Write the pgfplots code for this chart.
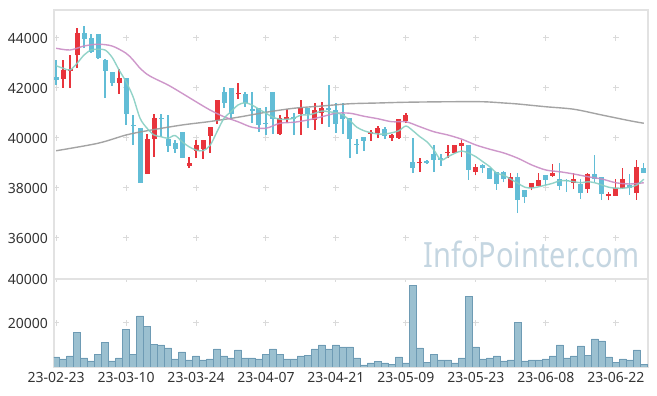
\documentclass[border=0pt]{standalone}
\usepackage{pgfplots}
\pgfplotsset{compat=1.18}
\usepackage{pgfplotstable}
\usepackage{graphicx}
\usepackage{fontspec}
\setmainfont{Noto Sans}
\definecolor{upc}{HTML}{E8343C}
\definecolor{dnc}{HTML}{62BDD6}
\definecolor{ma5}{HTML}{86CEC2}
\definecolor{ma20}{HTML}{C98CC4}
\definecolor{ma60}{HTML}{9A9A9A}
\definecolor{volf}{HTML}{9BC0D0}
\definecolor{vold}{HTML}{6E9BB4}
\definecolor{framec}{HTML}{E2E2E2}
\definecolor{gridc}{HTML}{DADADA}
\definecolor{txt}{HTML}{333333}
\definecolor{wm}{HTML}{C5D6E1}

\pgfplotstableread{
i o h l c
1 42360 43120 42010 42720
2 42680 43320 41990 42760
3 43300 44390 42790 44190
9 42190 42750 41760 42390
13 38550 40150 38550 39960
14 39950 40960 39250 40800
19 38890 39250 38790 38990
20 39490 39920 39190 39720
21 39570 39920 39170 39920
22 40080 40450 39390 40450
23 40720 41520 40560 41520
26 41740 42190 41550 41810
32 40160 40920 40120 40790
33 40760 41150 40590 40840
35 40970 41520 40120 41210
37 40710 41390 40320 41120
38 41010 41450 40550 41210
45 40170 40320 39890 40250
46 40190 40490 39990 40390
48 40010 40160 39890 40120
49 40010 40750 39950 40750
50 40690 41010 40590 40920
52 38990 39210 38630 39050
56 39390 39720 39190 39450
57 39410 39720 39410 39720
58 39680 39920 39230 39790
60 38650 38950 38500 38850
65 37990 38590 37990 38430
68 37990 38210 37900 38210
69 38090 38590 38090 38320
71 38490 38960 38450 38610
74 38190 38590 37950 38360
76 37950 38600 37800 38560
79 37690 37850 37500 37760
80 37690 38350 37690 37990
81 37990 38790 37950 38350
83 37790 39120 37520 38830
}\upt

\pgfplotstableread{
i o h l c
0 42430 43120 42120 42320
4 44190 44480 43590 43960
5 43990 44150 43410 43450
6 44150 44150 43150 43210
7 43120 43150 41590 42690
8 42630 42630 42090 42190
10 42390 42390 40520 40950
11 40530 40920 39720 40470
12 40390 40390 38210 38210
15 40800 40960 40050 40750
16 39970 40920 39450 39690
17 39790 39920 39400 39570
18 40230 40230 39210 39210
24 41830 42030 41190 41390
25 41990 41990 40720 40960
27 41760 41850 41250 41390
28 41160 41850 40590 41090
29 41210 41210 40250 40520
30 40610 41250 40120 40560
31 41840 41840 40150 40770
34 40840 40990 40120 40750
36 41210 41210 40390 40960
39 41190 42120 40450 41110
40 41120 41390 40190 40570
41 40950 41390 40150 40750
42 40810 40810 39190 39950
43 39770 39960 39360 39710
44 40030 40030 39490 39890
47 40350 40450 39950 40080
51 39050 40010 38590 38790
53 39060 39120 38950 39000
54 39360 39720 38630 39120
55 39180 39360 38890 39120
59 39720 39720 38320 38720
61 38920 38960 38600 38790
62 38810 38810 38360 38360
63 38630 38630 37920 38150
64 38630 38690 38220 38350
66 38430 38590 36990 37520
67 37920 37920 37390 37630
70 38520 38520 38120 38320
72 38360 38990 37920 38090
73 38330 38360 37850 38270
75 38160 38350 37550 37790
77 38560 39320 38250 38350
78 38430 38430 37520 37750
82 38120 38550 37720 37990
84 38810 38990 38590 38590
}\dnt

\pgfplotstableread{
i m
0 42890
1 42790
2 42720
3 42990
4 43320
5 43520
6 43550
7 43520
8 43230
9 42720
10 42250
11 41650
12 40790
13 40390
14 40120
15 40050
16 39990
17 40100
18 39850
19 39650
20 39520
21 39490
22 39700
23 40250
24 40790
25 41050
26 41320
27 41410
28 41320
29 41150
30 40990
31 40830
32 40750
33 40750
34 40790
35 40920
36 40920
37 40990
38 41080
39 41050
40 41010
41 40920
42 40690
43 40430
44 40290
45 40210
46 40160
47 40160
48 40210
49 40290
50 40480
51 40290
52 40050
53 39850
54 39520
55 39120
56 39250
57 39390
58 39480
59 39390
60 39250
61 39050
62 38850
63 38590
64 38510
65 38350
66 38190
67 38030
68 38000
69 38050
70 38120
71 38190
72 38290
73 38290
74 38250
75 38210
76 38250
77 38210
78 38120
79 38030
80 37990
81 37990
82 38030
83 38120
84 38350
}\mafive

\pgfplotstableread{
i m
0 43590
2 43520
4 43680
6 43750
8 43680
10 43390
11 43120
12 42790
13 42550
14 42390
16 42120
18 41790
20 41450
22 41120
24 40850
26 40650
28 40430
30 40390
32 40590
34 40630
36 40720
38 40850
40 40990
42 40990
44 40870
46 40770
48 40650
50 40650
52 40450
54 40250
56 40120
58 39950
60 39720
62 39550
64 39400
66 39190
68 38920
70 38720
72 38650
74 38560
76 38450
78 38360
80 38210
82 38160
84 38210
}\matwenty

\pgfplotstableread{
i m
0 39490
6 39790
10 40120
13 40290
18 40520
22 40660
26 40830
30 41030
34 41190
38 41280
42 41370
46 41400
50 41430
56 41450
61 41450
64 41400
66 41360
70 41250
74 41150
78 40920
82 40690
84 40590
}\masixty

\pgfplotstableread{
i v
0 4545
1 3640
2 5000
3 15900
4 4090
5 2730
6 5900
7 11360
8 2730
9 4090
10 17270
11 5900
12 23180
13 18630
14 10450
15 10000
16 8640
17 3640
18 6820
19 3180
20 5000
21 3180
22 3640
23 8180
24 5000
25 4090
26 7730
27 4090
28 4090
29 3640
30 5900
31 8180
32 5900
33 3640
34 3640
35 5000
36 5450
37 8180
38 10000
39 8180
40 10000
41 9090
42 9090
43 4090
44 910
45 1820
46 2420
47 1820
48 1360
49 4545
50 1820
51 36970
52 8640
53 2270
54 5900
55 3180
56 3180
57 1820
58 4090
59 32270
60 9090
61 3640
62 4090
63 5000
64 2730
65 3180
66 20450
67 2730
68 3180
69 3180
70 3640
71 5000
72 10000
73 4090
74 5000
75 9545
76 5450
77 12730
78 11820
79 4545
80 2270
81 3640
82 3180
83 7730
84 1360
}\vol

\pgfplotsset{
  common/.style={
    scale only axis, anchor=south west, width=594pt,
    xmin=-0.3, xmax=84.6,
    xtick={0,10,...,80},
    scaled ticks=false,
    major tick length=0pt,
    axis line style={draw=framec, line width=1.5pt},
    tick label style={font=\fontsize{14}{16}\selectfont, text=txt, inner sep=0pt},
    yticklabel style={xshift=-6pt},
    xticklabel style={yshift=-5pt},
    grid=major,
    y grid style={draw=gridc, line width=1pt, dash pattern=on 6pt off 64pt, dash phase=1pt},
  },
}

\begin{document}
\begin{tikzpicture}
\useasboundingbox (0,0) rectangle (657pt,396pt);
\begin{axis}[common,
  at={(54pt,117pt)}, height=269pt,
  ymin=34360, ymax=45120,
  xticklabels={},
  ytick={36000,38000,40000,42000,44000},
  yticklabels={36000,38000,40000,42000,44000},
  x grid style={draw=gridc, line width=1pt, dash pattern=on 6pt off 44pt, dash phase=12pt},
]
% wicks
\addplot[draw=none, mark=none, forget plot,
  error bars/.cd, y dir=plus, y explicit, error mark=none,
  error bar style={draw=upc, line width=1.2pt}]
  table[x=i, y=l, y error plus expr=\thisrow{h}-\thisrow{l}] {\upt};
\addplot[draw=none, mark=none, forget plot,
  error bars/.cd, y dir=plus, y explicit, error mark=none,
  error bar style={draw=dnc, line width=1.2pt}]
  table[x=i, y=l, y error plus expr=\thisrow{h}-\thisrow{l}] {\dnt};
% bodies
\addplot[draw=none, mark=none, forget plot,
  error bars/.cd, y dir=plus, y explicit, error mark=none,
  error bar style={draw=upc, line width=5pt}]
  table[x=i, y=o, y error plus expr=\thisrow{c}-\thisrow{o}] {\upt};
\addplot[draw=none, mark=none, forget plot,
  error bars/.cd, y dir=plus, y explicit, error mark=none,
  error bar style={draw=dnc, line width=5pt}]
  table[x=i, y=c, y error plus expr=\thisrow{o}-\thisrow{c}] {\dnt};
% moving averages
\addplot[ma60, line width=1.4pt, smooth, mark=none, opacity=0.9] table[x=i, y=m] {\masixty};
\addplot[ma20, line width=1.4pt, smooth, mark=none, opacity=0.9] table[x=i, y=m] {\matwenty};
\addplot[ma5, line width=1.4pt, smooth, mark=none, opacity=0.9] table[x=i, y=m] {\mafive};
\node[anchor=base east, inner sep=0pt, text=wm] at (rel axis cs:0.9865,0.041)
  {\scalebox{1}[1.2]{\fontsize{29}{30}\selectfont InfoPointer.com}};
\end{axis}

\begin{axis}[common,
  at={(54pt,29pt)}, height=88pt,
  ymin=0, ymax=40000,
  xticklabels={23-02-23,23-03-10,23-03-24,23-04-07,23-04-21,23-05-09,23-05-23,23-06-08,23-06-22},
  ytick={20000,40000},
  yticklabels={20000,40000},
  x grid style={draw=gridc, line width=1pt, dash pattern=on 6pt off 38pt, dash phase=3pt},
]
\addplot[ybar, bar width=1, bar shift=0pt, fill=volf, draw=vold, line width=0.6pt] table[x=i, y=v] {\vol};
\end{axis}
\end{tikzpicture}
\end{document}
